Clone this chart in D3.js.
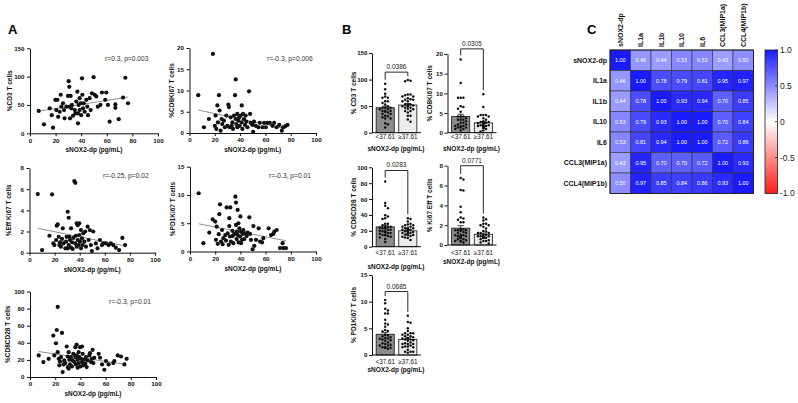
<!DOCTYPE html>
<html>
<head>
<meta charset="utf-8">
<script src="https://cdn.jsdelivr.net/npm/d3@7"></script>
<style>
  body { margin: 0; background: #fff; }
  svg { font-family: "Liberation Sans", Arial, sans-serif; }
  .axis text { font-size: 6.2px; font-weight: bold; fill: #111; }
  .axis path, .axis line { stroke: #111; stroke-width: 1; }
  .ytitle, .xtitle { font-size: 6.5px; font-weight: bold; fill: #111; }
  .note { font-size: 6.7px; fill: #333; }
  .panel { font-size: 13px; font-weight: bold; }
</style>
</head>
<body>
<svg id="chart" width="798" height="403"></svg>
<script>
// ---- data: panel A (sNOX2-dp pg/mL vs % cells) ----
var cd3Points = [[6.8,39.4],[10.9,15.9],[15.4,44],[18,10],[17,32],[19.8,59],[21.4,59],[20.6,41],[22,29],[23.2,38],[24,68],[24.5,47],[25.8,53],[26.6,41],[27,26.5],[28.4,47],[29.7,66],[30.2,92],[30.7,82],[31.8,66],[31,47],[31.3,26.5],[32.3,44],[32.8,50],[33.6,31],[35,41],[35.4,35],[36.2,56],[37,73.5],[37.5,17.6],[37.5,35],[38,50],[38.8,62],[38.8,41],[39.6,53],[40,32],[40.6,97],[40.9,68],[41.4,44],[42,53],[42.7,38],[44,59],[44.8,47],[45.3,32],[46.6,62],[47.4,41],[48.4,70.6],[49.7,99],[50.5,68],[51.8,65],[53,47],[55,50],[56.2,72],[58.8,59],[59.6,72],[60.9,50],[62.2,20.6],[66.7,51],[66.7,45],[69.3,25],[72.7,63],[74.5,98],[76.6,53]];
var cd8ki67Points = [[6.9,8.9],[11.4,1.35],[15.3,3.3],[18.5,18.6],[20,1.7],[20.6,4.1],[21.2,0.95],[22,6.5],[22.5,2.5],[23.3,8.9],[23.8,5.3],[24.6,0.55],[25.4,3.3],[25.9,2.1],[27.2,2.9],[28,1.35],[29.1,4.1],[29.9,1.7],[30.7,6.7],[31.2,6.1],[31.7,1.35],[32.5,3.7],[33.3,1.7],[33.9,2.5],[34.4,0.95],[35.2,4.1],[36,8.9],[36.5,12.6],[36.5,3.3],[37,2.1],[37.8,4.5],[37.8,1.35],[38.6,2.9],[39.2,3.7],[39.7,1.7],[40.5,4.1],[41.3,6.5],[41.3,2.5],[41.8,0.95],[42.3,4.5],[43.1,3.3],[43.9,1.9],[44.4,4.1],[45,2.7],[45.8,1.35],[47.1,9.8],[47.9,4.5],[48.4,2.4],[49.7,1.9],[50.3,0.3],[51,2.7],[52.4,1.7],[54.5,1.35],[55.6,2.4],[57.7,1.35],[59,2.4],[60.3,1.35],[61.6,2.4],[63.5,2.4],[65.6,1.7],[66.9,2.4],[68.8,1.35],[70.9,1.9],[73,0.55],[74,1.35],[75.7,1.6],[77.5,1.9]];
var effKi67Points = [[6.6,5.54],[10,0.25],[15.9,1.6],[18,5.5],[19,0.88],[19.8,0.72],[21.2,1.2],[21.7,2.55],[22.5,2.68],[23.3,1.5],[23.8,0.72],[24.3,0.98],[25,0.57],[25.9,1.3],[26.5,2.3],[27,0.88],[28.6,0.41],[29.1,1.04],[29.6,1.5],[30.4,3.87],[30.4,0.41],[31.2,3.3],[31.2,0.72],[31.7,1.5],[32.3,1.2],[33.1,2.3],[33.1,0.47],[33.9,0.98],[34.4,0.35],[34.9,1.4],[35.7,6.77],[36.5,6.6],[36.5,0.88],[37,1.6],[37.6,2.77],[37.6,0.57],[38.4,2.6],[38.4,1.2],[39.2,0.72],[39.7,2.77],[39.7,1.67],[40.2,1.04],[41,2.14],[41,0.41],[41.8,1.35],[42.3,0.72],[42.9,1.83],[43.7,1.04],[44.4,2],[45,0.57],[46.3,2.46],[47.1,1.2],[48.1,2.14],[48.9,0.72],[49.7,0.16],[50.8,2],[52.9,0.88],[54.2,0.41],[56.1,1.2],[57.7,0.72],[58.7,0.88],[60.8,0.88],[63,0.72],[64.8,0.88],[66.7,0.72],[68.8,0.47],[71.4,0.25],[74,1.4],[76.2,0.72]];
var pd1Ki67Points = [[6.9,10.3],[10.6,1.47],[15.3,3.35],[18,5.7],[20,5.3],[20.6,2.06],[21.2,4.4],[22,1.35],[22.8,3.06],[23.3,6.6],[23.8,8.35],[24.6,1.76],[25.4,3.8],[25.9,1.3],[26.5,2.35],[28,2.9],[28.6,1.94],[29.1,7.8],[29.9,3.2],[30.7,1.18],[31.2,5.9],[31.2,4.5],[31.7,2.65],[32,7.8],[32.5,1.76],[33.6,3.65],[33.9,2.76],[34.4,1.47],[35.2,3.1],[36,9.7],[36.5,8.65],[36.5,4.7],[37,2.2],[37.3,3.5],[37.8,7.35],[37.8,2.9],[38.4,5],[38.6,1.6],[39.2,4.1],[39.7,2.65],[40,6.2],[40.5,3.5],[40.5,1.47],[41.3,2.06],[41.8,3.1],[42.3,3.8],[43.1,2.2],[43.9,3.2],[45,2.76],[45.8,3.35],[47.1,6.05],[47.6,3.1],[48.4,2.06],[49.7,0.4],[50.3,4.5],[51,1],[52.4,2.06],[54.5,4.1],[55.6,1.76],[57.2,1.6],[58.2,2.35],[62.4,4.1],[64.3,2.9],[66.1,3.1],[66.9,3.5],[68.8,3.8],[71.4,0.6],[73.5,1.47],[74,0.6],[76.2,0.6]];
var cd8cd28Points = [[6.9,25.2],[10.6,17.4],[14.8,21.3],[18.5,48.4],[19.3,25.2],[20.6,39.5],[21.2,55],[22,82],[22,29],[22.8,21.3],[23.3,13.6],[23.8,18.2],[24.6,23.3],[25.4,51.5],[25.9,5.8],[26.5,14.7],[27.2,19.4],[28,16.3],[29.1,35.7],[29.9,11.6],[29.9,24],[30.7,29],[30.7,9.7],[31.2,20.2],[31.7,14.7],[32.5,23.3],[33.3,12.4],[33.9,19.4],[34.4,27.1],[35.2,17.4],[36,34.9],[36,23.3],[36.5,14.7],[37,25.2],[37,38],[37.8,20.2],[37.8,10.9],[38.6,29],[38.6,16.3],[39.2,23.3],[39.7,34.9],[40,12.4],[40.5,21.3],[41.3,35.7],[41.3,17.4],[41.8,27.1],[42.3,13.6],[43.1,20.2],[43.9,15.5],[44.4,23.3],[45,11.6],[45.8,19.4],[47.1,25.2],[47.6,27.9],[48.4,17.4],[49.2,21.3],[49.7,31.8],[50.3,16.3],[51,22.5],[54.5,27.1],[55.6,22.5],[57.2,14.7],[59,8.5],[60.3,18.6],[62.4,14.7],[66.1,16.3],[66.9,18.6],[69.6,25.2],[72.2,24],[74.9,14.7],[76.7,21.3]];

// regression line end points
var cd3Fit = [[6.8,39],[76.6,64]];
var cd8ki67Fit = [[6.9,5.4],[76,1.0]];
var effKi67Fit = [[6.6,2.3],[76.7,0.63]];
var pd1Ki67Fit = [[6.9,4.9],[76.2,1.9]];
var cd8cd28Fit = [[6.9,29.8],[76.2,14.7]];

var xTicksA = [0, 20, 40, 60, 80, 100];

// ---- data: panel B (split at 37.61 pg/mL) ----
var cutOff = 37.61;
var groupLabels = ["<37.61", "\u226537.61"];
var barMeansLow  = [47, 4.1, 25, 1.7, 3.9];
var barMeansHigh = [52, 2.5, 20, 1.08, 2.9];
var barSemLow    = [3, 0.6, 2, 0.25, 0.35];
var barSemHigh   = [3, 0.3, 1, 0.12, 0.3];
var pValues      = ["0.0386", "0.0305", "0.0283", "0.0771", "0.0685"];
var bracketLevels = [114, 21.3, 96, 8.0, 11.9];

// ---- data: panel C (correlation matrix) ----
var heatLabels = ["sNOX2-dp", "IL1a", "IL1b", "IL10", "IL6", "CCL3(MIP1a)", "CCL4(MIP1b)"];
var heatValues = [
  [1.00, 0.46, 0.44, 0.53, 0.53, 0.43, 0.50],
  [0.46, 1.00, 0.78, 0.79, 0.81, 0.95, 0.97],
  [0.44, 0.78, 1.00, 0.93, 0.94, 0.70, 0.85],
  [0.53, 0.79, 0.93, 1.00, 1.00, 0.70, 0.84],
  [0.53, 0.81, 0.94, 1.00, 1.00, 0.72, 0.86],
  [0.43, 0.95, 0.70, 0.70, 0.72, 1.00, 0.93],
  [0.50, 0.97, 0.85, 0.84, 0.86, 0.93, 1.00]
];
var colorbarTicks = [1, 0.5, 0, -0.5, -1];
var colorbarLabels = ["1.0", "0.5", "0", "-0.5", "-1.0"];

var svg = d3.select("#chart");

// panel letters
svg.append("text").attr("class", "panel").attr("x", 8).attr("y", 34).text("A");
svg.append("text").attr("class", "panel").attr("x", 342).attr("y", 34).text("B");
svg.append("text").attr("class", "panel").attr("x", 587).attr("y", 34).text("C");

// ---- Panel A: scatter plots ----
var scatterPanels = [
  {pts: cd3Points, fit: cd3Fit, dom: [0, 150], ticks: [0, 50, 100, 150], title: "%CD3 T cells", note: "r=0.3, p=0.003",
   x0: 30, x1: 158, yBot: 133.3, yTop: 48.3, titleX: 10, noteX: 105, noteY: 61},
  {pts: cd8ki67Points, fit: cd8ki67Fit, dom: [0, 20], ticks: [0, 5, 10, 15, 20], title: "%CD8Ki67 T cells", note: "r=-0.3, p=0.006",
   x0: 189.5, x1: 316, yBot: 133, yTop: 48, titleX: 172, noteX: 267, noteY: 61},
  {pts: effKi67Points, fit: effKi67Fit, dom: [0, 8], ticks: [0, 2, 4, 6, 8], title: "%Eff Ki67 T cells", note: "r=-0.25, p=0.02",
   x0: 29.5, x1: 155, yBot: 252.7, yTop: 168, titleX: 9, noteX: 103, noteY: 178},
  {pts: pd1Ki67Points, fit: pd1Ki67Fit, dom: [0, 15], ticks: [0, 5, 10, 15], title: "%PD1Ki67 T cells", note: "r=-0.3, p=0.01",
   x0: 190, x1: 316, yBot: 251.5, yTop: 166.7, titleX: 173, noteX: 269, noteY: 178},
  {pts: cd8cd28Points, fit: cd8cd28Fit, dom: [0, 100], ticks: [0, 20, 40, 60, 80, 100], title: "%CD8CD28 T cells", note: "r=-0.3, p=0.01",
   x0: 30, x1: 156, yBot: 377, yTop: 291.5, titleX: 8, noteX: 109, noteY: 304}
];

scatterPanels.forEach(function (p) {
  var x = d3.scaleLinear().domain([0, 100]).range([p.x0, p.x1]);
  var y = d3.scaleLinear().domain(p.dom).range([p.yBot, p.yTop]);
  var g = svg.append("g");

  g.append("g").attr("class", "axis")
    .attr("transform", `translate(0, ${p.yBot})`)
    .call(d3.axisBottom(x).tickValues(xTicksA).tickSize(3).tickSizeOuter(0).tickPadding(2));
  g.append("g").attr("class", "axis")
    .attr("transform", `translate(${p.x0}, 0)`)
    .call(d3.axisLeft(y).tickValues(p.ticks).tickSize(3).tickSizeOuter(0).tickPadding(2.5));

  g.append("line")
    .attr("x1", x(p.fit[0][0])).attr("y1", y(p.fit[0][1]))
    .attr("x2", x(p.fit[1][0])).attr("y2", y(p.fit[1][1]))
    .attr("stroke", "#777").attr("stroke-width", 0.8);

  g.selectAll("circle").data(p.pts).enter().append("circle")
    .attr("cx", d => x(d[0]))
    .attr("cy", d => y(d[1]))
    .attr("r", 2.1)
    .attr("fill", "#111");

  g.append("text").attr("class", "note").attr("x", p.noteX).attr("y", p.noteY).text(p.note);

  g.append("text").attr("class", "ytitle")
    .attr("transform", `translate(${p.titleX}, ${(p.yBot + p.yTop) / 2}) rotate(-90)`)
    .attr("text-anchor", "middle").attr("dy", "0.35em")
    .text(p.title);
  g.append("text").attr("class", "xtitle")
    .attr("x", (p.x0 + p.x1) / 2).attr("y", p.yBot + 19)
    .attr("text-anchor", "middle")
    .text("sNOX2-dp (pg/mL)");
});

// ---- Panel B: bar + dots ----
var barPanels = [
  {pts: cd3Points, dom: [0, 150], ticks: [0, 50, 100, 150], title: "% CD3 T cells", axisX: 372, yBot: 132.7, yTop: 53, catY: 139, xtY: 151},
  {pts: cd8ki67Points, dom: [0, 20], ticks: [0, 5, 10, 15, 20], title: "% CD8Ki67 T cells", axisX: 447.5, yBot: 132.7, yTop: 54, catY: 139, xtY: 151},
  {pts: cd8cd28Points, dom: [0, 100], ticks: [0, 20, 40, 60, 80, 100], title: "% CD8CD28 T cells", axisX: 372, yBot: 246.7, yTop: 167.3, catY: 255, xtY: 269},
  {pts: effKi67Points, dom: [0, 8], ticks: [0, 2, 4, 6, 8], title: "% Ki67 Eff T cells", axisX: 447.5, yBot: 245, yTop: 165.7, catY: 255, xtY: 263.5},
  {pts: pd1Ki67Points, dom: [0, 15], ticks: [0, 5, 10, 15], title: "% PD1Ki67 T cells", axisX: 372, yBot: 355, yTop: 275, catY: 363.5, xtY: 372}
];

// simple beeswarm: place each dot at the first free horizontal slot
function swarm(ys, half) {
  var placed = [], out = [];
  var order = ys.map((v, i) => i).sort((a, b) => ys[a] - ys[b]);
  order.forEach(function (i) {
    var cy = ys[i], cx = 0;
    for (var k = 0; k < 12; k++) {
      var off = (k % 2 ? 1 : -1) * Math.ceil(k / 2) * 2.7;
      if (Math.abs(off) > half) continue;
      var clash = placed.some(q => Math.hypot(q[0] - off, q[1] - cy) < 2.6);
      if (!clash) { cx = off; break; }
    }
    placed.push([cx, cy]);
    out[i] = cx;
  });
  return out;
}

barPanels.forEach(function (p, i) {
  var y = d3.scaleLinear().domain(p.dom).range([p.yBot, p.yTop]);
  var x = d3.scaleBand().domain(groupLabels)
    .range([p.axisX + 3, p.axisX + 46]).paddingInner(0.2).paddingOuter(0.05);
  var g = svg.append("g");
  var means = [barMeansLow[i], barMeansHigh[i]];
  var sems = [barSemLow[i], barSemHigh[i]];
  var fills = ["#8c8c8c", "#ececec"];

  g.selectAll("rect").data(groupLabels).enter().append("rect")
    .attr("x", d => x(d))
    .attr("y", (d, j) => y(means[j]))
    .attr("width", x.bandwidth())
    .attr("height", (d, j) => p.yBot - y(means[j]))
    .attr("fill", (d, j) => fills[j])
    .attr("stroke", "#111").attr("stroke-width", 0.8);

  // dots for each group
  groupLabels.forEach(function (lab, j) {
    var vals = p.pts.filter(d => j === 0 ? d[0] < cutOff : d[0] >= cutOff).map(d => d[1]);
    var ys = vals.map(v => y(v));
    var offs = swarm(ys, x.bandwidth() / 2 - 1.5);
    var cx = x(lab) + x.bandwidth() / 2;
    g.selectAll(null).data(vals).enter().append("circle")
      .attr("cx", (d, k) => cx + offs[k])
      .attr("cy", d => y(d))
      .attr("r", 1.25)
      .attr("fill", "#111");
    // sem bar
    g.append("line").attr("x1", cx).attr("x2", cx)
      .attr("y1", y(means[j] - sems[j])).attr("y2", y(means[j] + sems[j]))
      .attr("stroke", "#111").attr("stroke-width", 0.8);
    g.append("line").attr("x1", cx - 3).attr("x2", cx + 3)
      .attr("y1", y(means[j] + sems[j])).attr("y2", y(means[j] + sems[j]))
      .attr("stroke", "#111").attr("stroke-width", 0.8);
  });

  g.append("g").attr("class", "axis")
    .attr("transform", `translate(0, ${p.yBot})`)
    .call(d3.axisBottom(x).tickSize(0).tickFormat("").tickSizeOuter(0))
    .select(".domain").attr("d", `M${p.axisX},0H${p.axisX + 49}`);
  g.append("g").attr("class", "axis")
    .attr("transform", `translate(${p.axisX}, 0)`)
    .call(d3.axisLeft(y).tickValues(p.ticks).tickSize(3).tickSizeOuter(0).tickPadding(1.5));

  groupLabels.forEach(function (lab) {
    g.append("text").attr("x", x(lab) + x.bandwidth() / 2).attr("y", p.catY)
      .attr("text-anchor", "middle").attr("font-size", 6.3).attr("fill", "#111")
      .text(lab);
  });

  // significance bracket
  var c0 = x(groupLabels[0]) + x.bandwidth() / 2;
  var c1 = x(groupLabels[1]) + x.bandwidth() / 2;
  var top = y(bracketLevels[i]);
  var max0 = d3.max(p.pts.filter(d => d[0] < cutOff), d => d[1]);
  var max1 = d3.max(p.pts.filter(d => d[0] >= cutOff), d => d[1]);
  var leg0 = Math.max(top + 3, y(max0) - 4);
  var leg1 = Math.max(top + 3, y(max1) - 4);
  g.append("path")
    .attr("d", `M${c0},${leg0}V${top}H${c1}V${leg1}`)
    .attr("fill", "none").attr("stroke", "#111").attr("stroke-width", 0.9);
  g.append("text").attr("x", (c0 + c1) / 2).attr("y", top - 3)
    .attr("text-anchor", "middle").attr("font-size", 6.5).attr("fill", "#222")
    .text(pValues[i]);

  g.append("text").attr("class", "ytitle")
    .attr("transform", `translate(${p.axisX - 18}, ${(p.yBot + p.yTop) / 2}) rotate(-90)`)
    .attr("text-anchor", "middle").attr("dy", "0.35em")
    .text(p.title);
  g.append("text").attr("class", "xtitle")
    .attr("x", p.axisX + 24).attr("y", p.xtY)
    .attr("text-anchor", "middle")
    .text("sNOX2-dp (pg/mL)");
});

// ---- Panel C: heatmap ----
var color = d3.scaleLinear().domain([-1, 0, 1]).range(["#ff1a1a", "#ffffff", "#1a1aff"]);
var hx = d3.scaleBand().domain(heatLabels).range([610, 753.5]);
var hy = d3.scaleBand().domain(heatLabels).range([50, 193.5]);
var cells = [];
heatValues.forEach(function (row, r) {
  row.forEach(function (v, c) { cells.push({r: heatLabels[r], c: heatLabels[c], v: v}); });
});
var hg = svg.append("g");
hg.selectAll("rect").data(cells).enter().append("rect")
  .attr("x", d => hx(d.c)).attr("y", d => hy(d.r))
  .attr("width", hx.bandwidth()).attr("height", hy.bandwidth())
  .attr("fill", d => color(d.v))
  .attr("stroke", "#333").attr("stroke-width", 0.6);
hg.selectAll("text.val").data(cells).enter().append("text")
  .attr("class", "val")
  .attr("x", d => hx(d.c) + hx.bandwidth() / 2)
  .attr("y", d => hy(d.r) + hy.bandwidth() / 2)
  .attr("dy", "0.35em").attr("text-anchor", "middle")
  .attr("font-size", 5.5).attr("fill", "#fff")
  .text(d => d.v.toFixed(2));
hg.append("rect").attr("x", 610).attr("y", 50).attr("width", 143.5).attr("height", 143.5)
  .attr("fill", "none").attr("stroke", "#222").attr("stroke-width", 1);

hg.selectAll("text.row").data(heatLabels).enter().append("text")
  .attr("class", "row")
  .attr("x", 607).attr("y", d => hy(d) + hy.bandwidth() / 2)
  .attr("dy", "0.35em").attr("text-anchor", "end")
  .attr("font-size", 7).attr("font-weight", "bold").attr("fill", "#111")
  .text(d => d);
hg.selectAll("text.col").data(heatLabels).enter().append("text")
  .attr("class", "col")
  .attr("transform", d => `translate(${hx(d) + hx.bandwidth() / 2}, 47) rotate(-90)`)
  .attr("dy", "0.35em").attr("text-anchor", "start")
  .attr("font-size", 7).attr("font-weight", "bold").attr("fill", "#111")
  .text(d => d);

// colour bar
var cb = d3.scaleLinear().domain([-1, 1]).range([193.5, 50]);
var grad = svg.append("defs").append("linearGradient").attr("id", "cbar")
  .attr("x1", 0).attr("y1", 0).attr("x2", 0).attr("y2", 1);
[1, 0, -1].forEach(function (v) {
  grad.append("stop").attr("offset", (1 - v) / 2).attr("stop-color", color(v));
});
svg.append("rect").attr("x", 765).attr("y", 50).attr("width", 12.5).attr("height", 143.5)
  .attr("fill", "url(#cbar)").attr("stroke", "#222").attr("stroke-width", 0.8);
colorbarTicks.forEach(function (v, k) {
  svg.append("line").attr("x1", 775).attr("x2", 777.5).attr("y1", cb(v)).attr("y2", cb(v))
    .attr("stroke", "#222").attr("stroke-width", 0.8);
  svg.append("text").attr("x", 780).attr("y", cb(v)).attr("dy", "0.35em")
    .attr("font-size", 8.5).attr("fill", "#222").text(colorbarLabels[k]);
});
</script>
</body>
</html>
